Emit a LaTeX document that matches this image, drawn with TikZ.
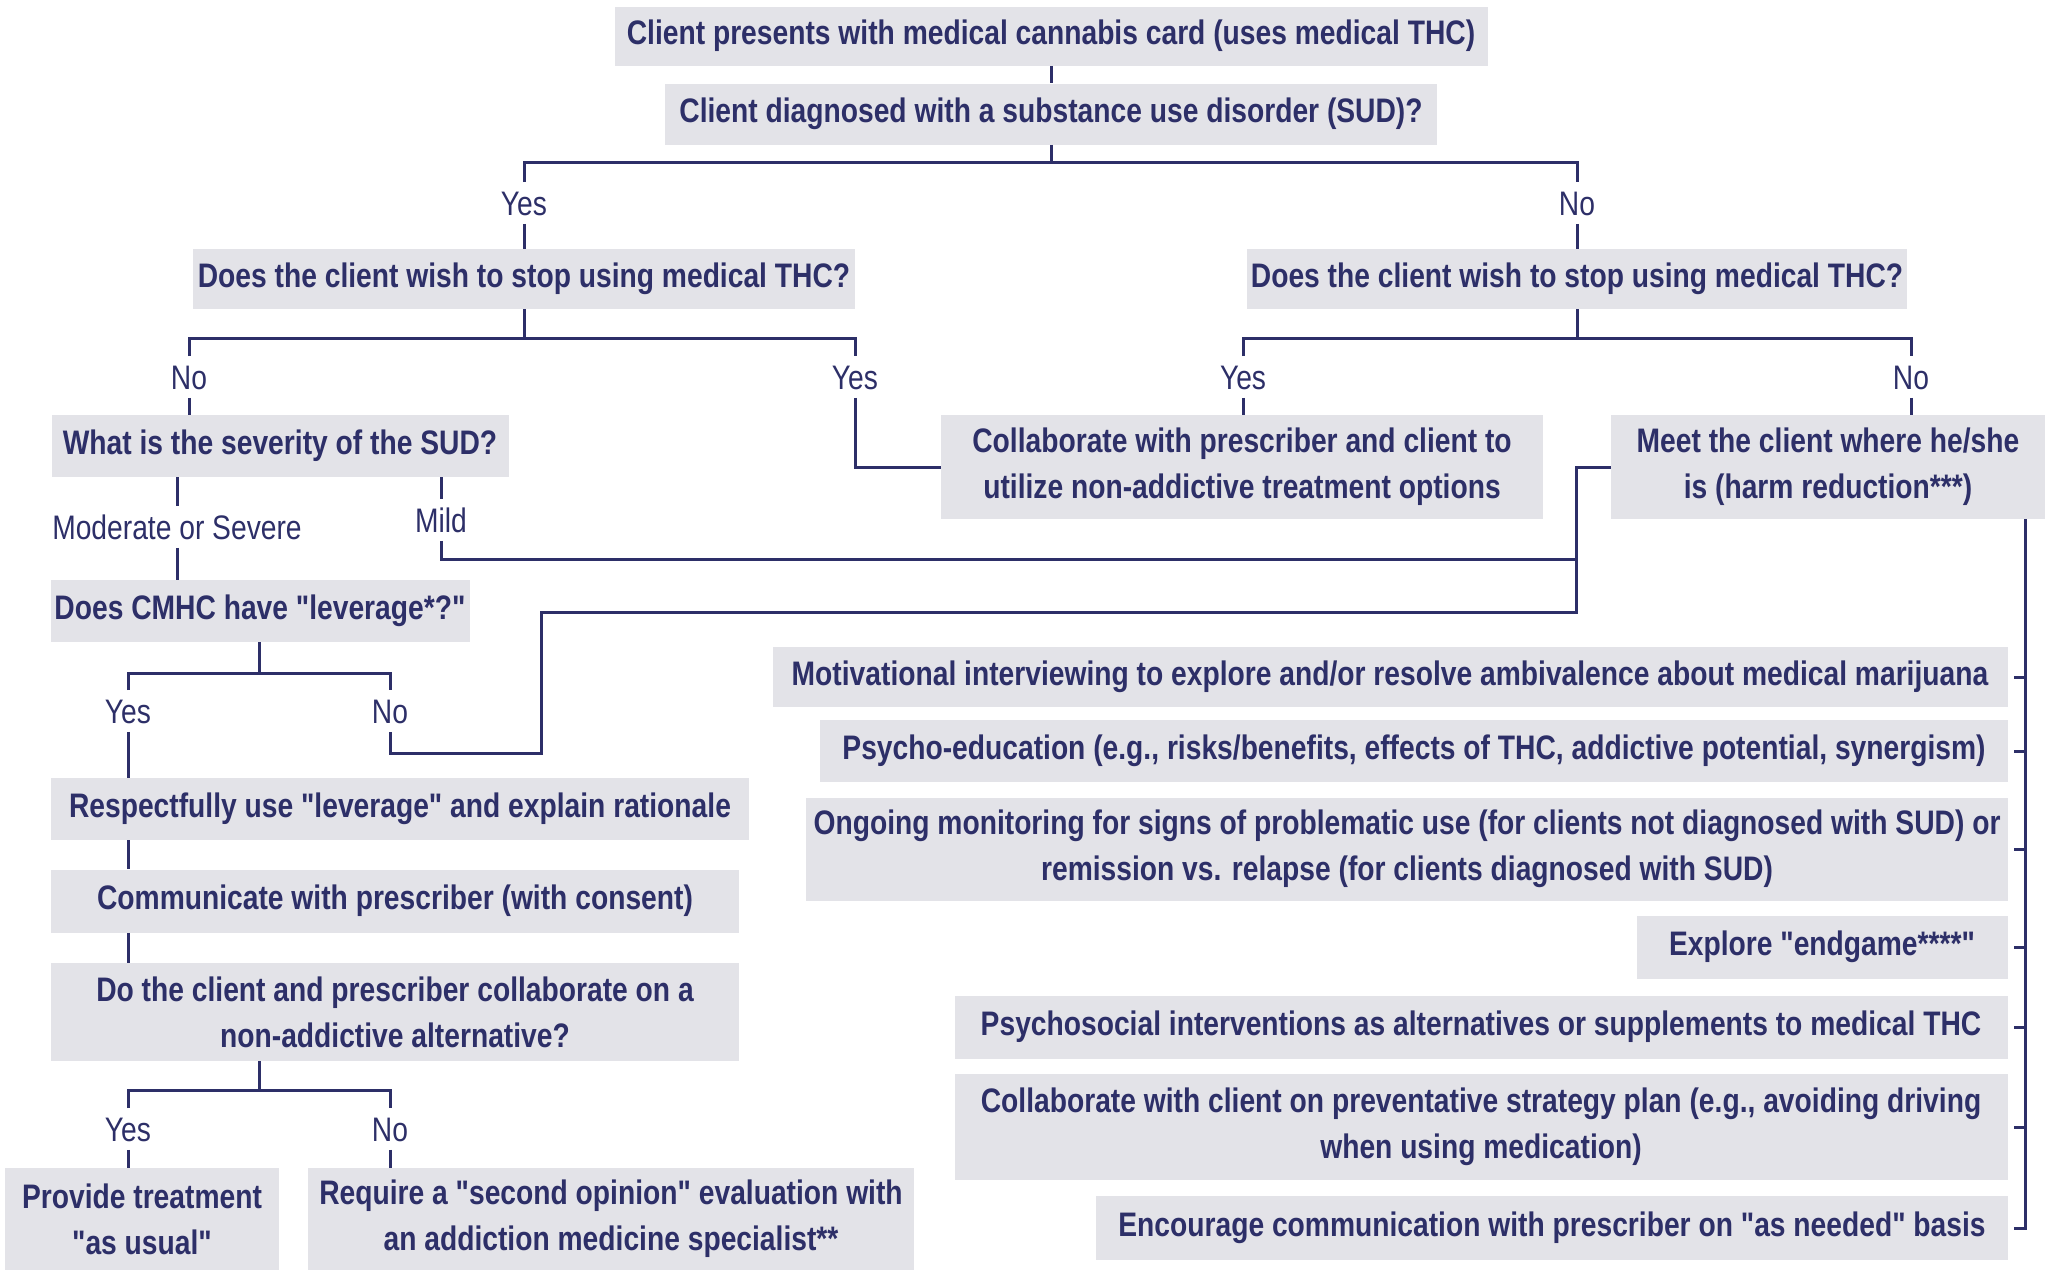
\documentclass[tikz,border=0pt]{standalone}
\usepackage{fontspec}
\setmainfont{Liberation Sans}[FakeStretch=0.83, Ligatures=TeXOff]
\definecolor{navy}{HTML}{2D2F68}
\definecolor{boxfill}{HTML}{E3E3E8}
\tikzset{
  box/.style={fill=boxfill, text=navy, font=\fontsize{17}{23}\selectfont\bfseries, align=center, inner sep=0pt},
  lbl/.style={text=navy, font=\fontsize{17}{23}\selectfont, inner xsep=2pt, inner ysep=4pt, text height=12.5pt, text depth=0pt},
  conn/.style={draw=navy, line width=1.5pt}
}
\begin{document}
\begin{tikzpicture}[x=0.5pt,y=-0.5pt]
\useasboundingbox[fill=white] (0,0) rectangle (2054,1270);
% boxes
\node[box, minimum width=436.5pt, minimum height=29.5pt] (n1) at (1051,36) {Client presents with medical cannabis card (uses medical THC)};
\node[box, minimum width=386pt, minimum height=30.5pt] (n2) at (1051,114) {Client diagnosed with a substance use disorder (SUD)?};
\node[box, minimum width=331pt, minimum height=30pt] (q1L) at (524,279) {Does the client wish to stop using medical THC?};
\node[box, minimum width=330pt, minimum height=30pt] (q1R) at (1577,279) {Does the client wish to stop using medical THC?};
\node[box, minimum width=228.5pt, minimum height=31pt] (sev) at (280,446) {What is the severity of the SUD?};
\node[box, minimum width=301pt, minimum height=52pt] (collab) at (1242,467) {Collaborate with prescriber and client to\\utilize non-addictive treatment options};
\node[box, minimum width=217pt, minimum height=52pt] (meet) at (1828,467) {Meet the client where he/she\\is (harm reduction***)};
\node[box, minimum width=209.5pt, minimum height=31pt] (lev) at (260,611) {Does CMHC have "leverage*?"};
\node[box, minimum width=349pt, minimum height=31pt] (resp) at (400,809) {Respectfully use "leverage" and explain rationale};
\node[box, minimum width=344pt, minimum height=31.5pt] (comm) at (395,901) {Communicate with prescriber (with consent)};
\node[box, minimum width=344pt, minimum height=49pt] (do) at (395,1012) {Do the client and prescriber collaborate on a\\non-addictive alternative?};
\node[box, minimum width=137pt, minimum height=51pt] (prov) at (142,1219) {Provide treatment\\"as usual"};
\node[box, minimum width=303pt, minimum height=51pt] (req) at (611,1219) {Require a "second opinion" evaluation with\\an addiction medicine specialist**};
\node[box, minimum width=617.5pt, minimum height=30pt] (mi) at (1390,677) {Motivational interviewing to explore and/or resolve ambivalence about medical marijuana};
\node[box, minimum width=594pt, minimum height=31pt] (pe) at (1414,751) {Psycho-education (e.g., risks/benefits, effects of THC, addictive potential, synergism)};
\node[box, minimum width=601pt, minimum height=51.5pt] (om) at (1407,849) {Ongoing monitoring for signs of problematic use (for clients not diagnosed with SUD) or\\remission vs. relapse (for clients diagnosed with SUD)};
\node[box, minimum width=185.5pt, minimum height=31.5pt] (eg) at (1822,947) {Explore "endgame****"};
\node[box, minimum width=526.5pt, minimum height=31.5pt] (ps) at (1481,1027) {Psychosocial interventions as alternatives or supplements to medical THC};
\node[box, minimum width=526.5pt, minimum height=53pt] (cs) at (1481,1127) {Collaborate with client on preventative strategy plan (e.g., avoiding driving\\when using medication)};
\node[box, minimum width=456pt, minimum height=32pt] (ec) at (1552,1228) {Encourage communication with prescriber on "as needed" basis};
% labels
\node[lbl] (yes1) at (524,203) {Yes};
\node[lbl] (no1) at (1577,203) {No};
\node[lbl] (noL2) at (189,377) {No};
\node[lbl] (yesL2) at (855,377) {Yes};
\node[lbl] (yesR2) at (1243,377) {Yes};
\node[lbl] (noR2) at (1911,377) {No};
\node[lbl] (mod) at (177,527) {Moderate or Severe};
\node[lbl] (mild) at (441,520) {Mild};
\node[lbl] (yesA) at (128,711) {Yes};
\node[lbl] (noA) at (390,711) {No};
\node[lbl] (yesB) at (128,1129) {Yes};
\node[lbl] (noB) at (390,1129) {No};
% coordinates
\coordinate (b1) at (1051,162);
\coordinate (b2) at (524,338);
\coordinate (b3) at (1577,338);
\coordinate (b4) at (259,673);
\coordinate (b5) at (259,1090);
\coordinate (jm) at (1576,559);
\coordinate (jb) at (1576,612);
\coordinate (jc) at (541,612);
\coordinate (jd) at (541,753);
\coordinate (bx) at (2025,0);
% connectors
\draw[conn] (n1) -- (n2);
\draw[conn] (n2) -- (b1);
\draw[conn] (yes1) |- (b1) -| (no1);
\draw[conn] (yes1) -- (yes1 |- q1L.north);
\draw[conn] (no1) -- (no1 |- q1R.north);
\draw[conn] (q1L) -- (b2);
\draw[conn] (noL2) |- (b2) -| (yesL2);
\draw[conn] (noL2) -- (noL2 |- sev.north);
\draw[conn] (yesL2) |- (collab.west);
\draw[conn] (q1R) -- (b3);
\draw[conn] (yesR2) |- (b3) -| (noR2);
\draw[conn] (yesR2) -- (yesR2 |- collab.north);
\draw[conn] (noR2) -- (noR2 |- meet.north);
\draw[conn] (mod |- sev.south) -- (mod);
\draw[conn] (mod) -- (mod |- lev.north);
\draw[conn] (mild |- sev.south) -- (mild);
\draw[conn] (mild) |- (jm);
\draw[conn] (meet.west) -| (jb) -- (jc) -- (jd) -| (noA);
\draw[conn] (lev.south -| b4) -- (b4);
\draw[conn] (yesA) |- (b4) -| (noA);
\draw[conn] (yesA) -- (yesA |- resp.north);
\draw[conn] (resp.south -| yesA) -- (comm.north -| yesA);
\draw[conn] (comm.south -| yesA) -- (do.north -| yesA);
\draw[conn] (do.south -| b5) -- (b5);
\draw[conn] (yesB) |- (b5) -| (noB);
\draw[conn] (yesB) -- (yesB |- prov.north);
\draw[conn] (noB) -- (noB |- req.north);
% bus on the right
\draw[conn] (meet.south -| bx) -- (bx |- ec.east) -- ([xshift=3pt]ec.east);
\foreach \n in {mi,pe,om,eg,ps,cs}
  \draw[conn] (bx |- \n.east) -- ([xshift=3pt]\n.east);
\end{tikzpicture}
\end{document}
